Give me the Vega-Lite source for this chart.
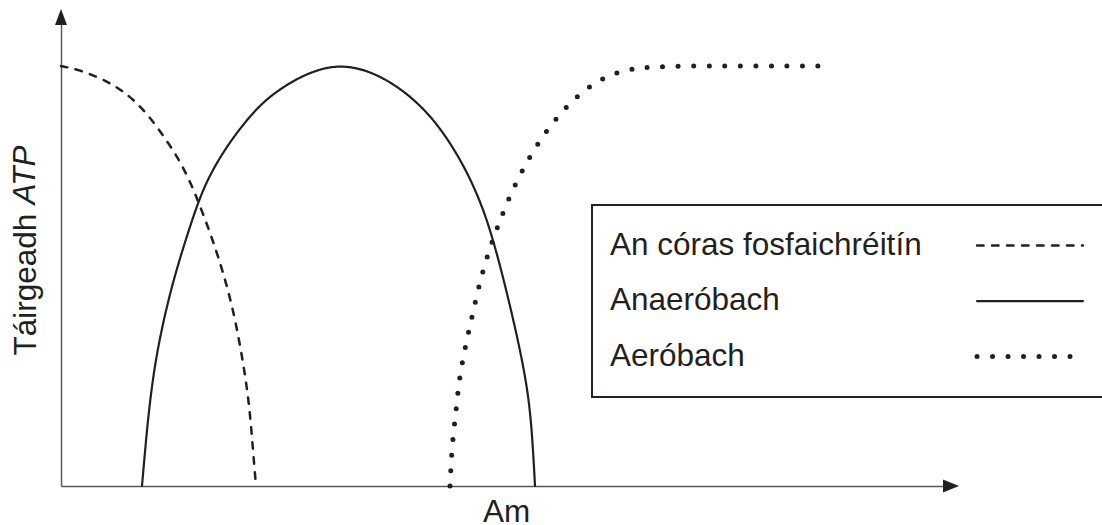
{
  "$schema": "https://vega.github.io/schema/vega-lite/v6.json",
  "width": 890,
  "height": 469,
  "autosize": "none",
  "padding": {"left": 61, "top": 17, "right": 151, "bottom": 39},
  "background": "white",
  "config": {"view": {"stroke": null}, "font": "Liberation Sans"},
  "data": {
    "values": [
      {"series": "An córas fosfaichréitín", "am": 0, "atp": 89.55},
      {"series": "An córas fosfaichréitín", "am": 2.13, "atp": 88.7},
      {"series": "An córas fosfaichréitín", "am": 4.38, "atp": 86.99},
      {"series": "An córas fosfaichréitín", "am": 6.29, "atp": 85.07},
      {"series": "An córas fosfaichréitín", "am": 8.09, "atp": 82.52},
      {"series": "An córas fosfaichréitín", "am": 10.0, "atp": 78.68},
      {"series": "An córas fosfaichréitín", "am": 11.91, "atp": 73.56},
      {"series": "An córas fosfaichréitín", "am": 13.37, "atp": 69.3},
      {"series": "An córas fosfaichréitín", "am": 14.72, "atp": 63.97},
      {"series": "An córas fosfaichréitín", "am": 15.39, "atp": 60.77},
      {"series": "An córas fosfaichréitín", "am": 16.4, "atp": 55.86},
      {"series": "An córas fosfaichréitín", "am": 17.3, "atp": 50.96},
      {"series": "An córas fosfaichréitín", "am": 18.2, "atp": 45.63},
      {"series": "An córas fosfaichréitín", "am": 19.21, "atp": 38.59},
      {"series": "An córas fosfaichréitín", "am": 20.11, "atp": 30.28},
      {"series": "An córas fosfaichréitín", "am": 20.79, "atp": 22.39},
      {"series": "An córas fosfaichréitín", "am": 21.24, "atp": 15.57},
      {"series": "An córas fosfaichréitín", "am": 21.57, "atp": 7.68},
      {"series": "An córas fosfaichréitín", "am": 21.91, "atp": 0},
      {"series": "Anaeróbach", "am": 9.1, "atp": 0},
      {"series": "Anaeróbach", "am": 9.55, "atp": 9.81},
      {"series": "Anaeróbach", "am": 10.0, "atp": 18.34},
      {"series": "Anaeróbach", "am": 10.79, "atp": 29.0},
      {"series": "Anaeróbach", "am": 12.25, "atp": 41.36},
      {"series": "Anaeróbach", "am": 13.71, "atp": 50.75},
      {"series": "Anaeróbach", "am": 15.39, "atp": 60.55},
      {"series": "Anaeróbach", "am": 16.74, "atp": 66.52},
      {"series": "Anaeróbach", "am": 18.99, "atp": 73.56},
      {"series": "Anaeróbach", "am": 22.13, "atp": 81.02},
      {"series": "Anaeróbach", "am": 24.61, "atp": 84.65},
      {"series": "Anaeróbach", "am": 26.85, "atp": 87.21},
      {"series": "Anaeróbach", "am": 29.1, "atp": 88.91},
      {"series": "Anaeróbach", "am": 31.35, "atp": 89.7},
      {"series": "Anaeróbach", "am": 34.38, "atp": 88.8},
      {"series": "Anaeróbach", "am": 38.09, "atp": 85.07},
      {"series": "Anaeróbach", "am": 41.8, "atp": 78.68},
      {"series": "Anaeróbach", "am": 44.83, "atp": 69.94},
      {"series": "Anaeróbach", "am": 46.85, "atp": 62.05},
      {"series": "Anaeróbach", "am": 48.54, "atp": 53.09},
      {"series": "Anaeróbach", "am": 50.79, "atp": 36.03},
      {"series": "Anaeróbach", "am": 52.36, "atp": 21.96},
      {"series": "Anaeróbach", "am": 52.92, "atp": 11.94},
      {"series": "Anaeróbach", "am": 53.26, "atp": 0},
      {"series": "Aeróbach", "am": 43.71, "atp": 0},
      {"series": "Aeróbach", "am": 43.93, "atp": 8.74},
      {"series": "Aeróbach", "am": 44.38, "atp": 15.78},
      {"series": "Aeróbach", "am": 44.72, "atp": 22.6},
      {"series": "Aeróbach", "am": 45.39, "atp": 29.42},
      {"series": "Aeróbach", "am": 46.18, "atp": 36.03},
      {"series": "Aeróbach", "am": 46.97, "atp": 42.86},
      {"series": "Aeróbach", "am": 47.98, "atp": 49.68},
      {"series": "Aeróbach", "am": 49.21, "atp": 56.08},
      {"series": "Aeróbach", "am": 50.56, "atp": 62.47},
      {"series": "Aeróbach", "am": 52.25, "atp": 68.87},
      {"series": "Aeróbach", "am": 54.16, "atp": 74.84},
      {"series": "Aeróbach", "am": 56.4, "atp": 80.17},
      {"series": "Aeróbach", "am": 58.99, "atp": 84.86},
      {"series": "Aeróbach", "am": 62.13, "atp": 88.27},
      {"series": "Aeróbach", "am": 65.84, "atp": 89.55},
      {"series": "Aeróbach", "am": 75.0, "atp": 89.55},
      {"series": "Aeróbach", "am": 86.07, "atp": 89.55}
    ]
  },
  "layer": [
    {
      "transform": [{"filter": "datum.series === 'An córas fosfaichréitín'"}],
      "mark": {"type": "line", "interpolate": "basis", "color": "#231f20", "strokeCap": "round", "strokeWidth": 2.5, "clip": false},
      "encoding": {
        "x": {
          "field": "am", "type": "quantitative",
          "scale": {"domain": [0, 100], "nice": false, "zero": false},
          "axis": {
            "domain": true, "domainColor": "#58595b", "domainWidth": 1.5,
            "ticks": false, "labels": false, "grid": false,
            "title": "Am", "titleFont": "Liberation Sans", "titleFontSize": 31.5,
            "titleFontWeight": "normal", "titleColor": "#231f20",
            "titleBaseline": "alphabetic", "titleY": 35
          }
        },
        "y": {
          "field": "atp", "type": "quantitative",
          "scale": {"domain": [0, 100], "nice": false, "zero": false},
          "axis": {
            "domain": true, "domainColor": "#58595b", "domainWidth": 1.5,
            "ticks": false, "labels": false, "grid": false,
            "title": "Táirgeadh", "titleFont": "Liberation Sans", "titleFontSize": 31.5,
            "titleFontWeight": "normal", "titleColor": "#231f20",
            "titleAngle": 270, "titleAlign": "left", "titleBaseline": "alphabetic",
            "titleX": -25.5, "titleY": 338
          }
        },
        "strokeDash": {
          "field": "series", "type": "nominal",
          "scale": {
            "domain": ["An córas fosfaichréitín", "Anaeróbach", "Aeróbach"],
            "range": [[6.5, 8.5], [1, 0], [0, 15.5]]
          },
          "legend": {
            "title": null, "orient": "none", "legendX": 531, "legendY": 188,
            "direction": "vertical", "padding": 24.8, "strokeColor": "#231f20",
            "labelFont": "Liberation Sans", "labelFontSize": 31.5, "labelColor": "#231f20",
            "labelBaseline": "middle",
            "labelLimit": 600, "symbolType": "M-5,0L5,0", "symbolSize": 449,
            "symbolOffset": 397.45, "labelOffset": -435.75, "rowPadding": 22.5,
            "symbolStrokeColor": "#231f20",
            "encode": {
              "symbols": {"update": {
                "strokeCap": {"value": "round"},
                "strokeWidth": {"signal": "datum.value === 'Aeróbach' ? 5 : (datum.value === 'Anaeróbach' ? 2.2 : 2.5)"}
              }},
              "legend": {"update": {"strokeWidth": {"value": 2}}}
            }
          }
        }
      }
    },
    {
      "transform": [{"filter": "datum.series === 'Anaeróbach'"}],
      "mark": {"type": "line", "interpolate": "basis", "color": "#231f20", "strokeCap": "round", "strokeWidth": 2.2, "clip": false},
      "encoding": {
        "x": {"field": "am", "type": "quantitative"},
        "y": {"field": "atp", "type": "quantitative"},
        "strokeDash": {"field": "series", "type": "nominal"}
      }
    },
    {
      "transform": [{"filter": "datum.series === 'Aeróbach'"}],
      "mark": {"type": "line", "interpolate": "basis", "color": "#231f20", "strokeCap": "round", "strokeWidth": 5, "clip": false},
      "encoding": {
        "x": {"field": "am", "type": "quantitative"},
        "y": {"field": "atp", "type": "quantitative"},
        "strokeDash": {"field": "series", "type": "nominal"}
      }
    },
    {
      "data": {"values": [{"label": "ATP"}]},
      "mark": {
        "type": "text", "angle": 270, "align": "left", "baseline": "alphabetic",
        "fontStyle": "italic", "fontSize": 31.5, "font": "Liberation Sans", "color": "#231f20"
      },
      "encoding": {
        "x": {"datum": -2.87},
        "y": {"datum": 60.04},
        "text": {"field": "label"}
      }
    },
    {
      "data": {"values": [{"axis": "y"}]},
      "mark": {"type": "point", "filled": true, "shape": "M0,-1L-0.75,1L0.75,1Z", "size": 256, "color": "#231f20", "opacity": 1, "strokeWidth": 0},
      "encoding": {"x": {"datum": 0}, "y": {"datum": 100}}
    },
    {
      "data": {"values": [{"axis": "x"}]},
      "mark": {"type": "point", "filled": true, "shape": "M1,0L-1,-0.8L-1,0.8Z", "size": 256, "color": "#231f20", "opacity": 1, "strokeWidth": 0},
      "encoding": {"x": {"datum": 100}, "y": {"datum": 0}}
    }
  ]
}
